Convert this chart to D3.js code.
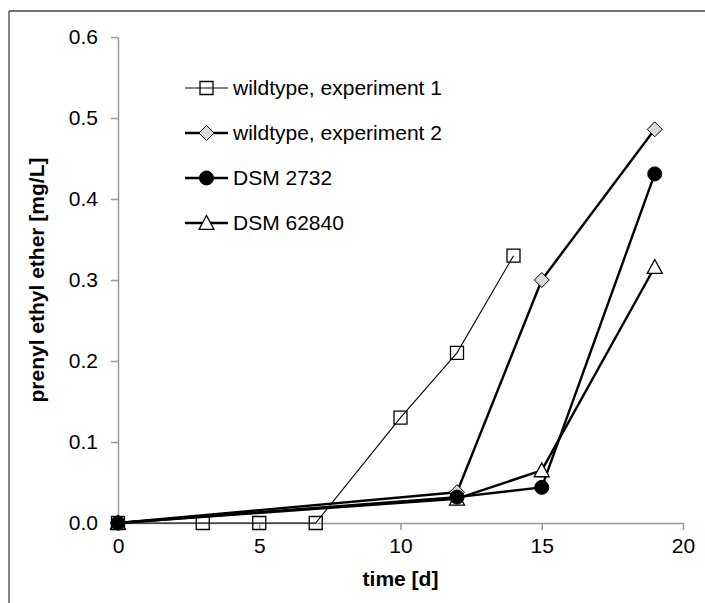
<!DOCTYPE html>
<html>
<head>
<meta charset="utf-8">
<script src="https://cdn.jsdelivr.net/npm/d3@7"></script>
<style>
  body { margin: 0; background: #fff; }
  text { font-family: "Liberation Sans", Arial, sans-serif; }
</style>
</head>
<body>
<svg id="chart" width="705" height="603"></svg>
<script>
// Data
let exp1Days = [0, 3, 5, 7, 10, 12, 14];
let exp1Values = [0, 0, 0, 0, 0.13, 0.21, 0.33];
let exp2Days = [0, 12, 15, 19];
let exp2Values = [0, 0.038, 0.30, 0.486];
let dsm2732Days = [0, 12, 15, 19];
let dsm2732Values = [0, 0.032, 0.044, 0.431];
let dsm62840Days = [0, 12, 15, 19];
let dsm62840Values = [0, 0.030, 0.065, 0.316];

let seriesNames = ["wildtype, experiment 1", "wildtype, experiment 2", "DSM 2732", "DSM 62840"];
let xTicks = [0, 5, 10, 15, 20];
let yTicks = [0, 0.1, 0.2, 0.3, 0.4, 0.5, 0.6];

let svg = d3.select("#chart");

let graphAttr = { left: 118, right: 683, top: 37, bottom: 523 };
let fontSize = "21px";

// Outer frame (top and left edges only are visible)
svg.append("line")
    .attr("x1", 9).attr("x2", 705).attr("y1", 11).attr("y2", 11)
    .attr("stroke", "#444").attr("stroke-width", 1.3);
svg.append("line")
    .attr("x1", 9).attr("x2", 9).attr("y1", 11).attr("y2", 603)
    .attr("stroke", "#444").attr("stroke-width", 1.3);

let x = d3.scaleLinear().domain([0, 20]).range([graphAttr.left, graphAttr.right]);
let y = d3.scaleLinear().domain([0, 0.6]).range([graphAttr.bottom, graphAttr.top]);

// Axes
let xAxis = svg.append("g")
    .attr("transform", "translate(0," + graphAttr.bottom + ")")
    .call(d3.axisBottom(x).tickValues(xTicks).tickSize(7).tickPadding(8).tickSizeOuter(0));
let yAxis = svg.append("g")
    .attr("transform", "translate(" + graphAttr.left + ",0)")
    .call(d3.axisLeft(y).tickValues(yTicks).tickFormat(d3.format(".1f")).tickSize(7).tickPadding(13).tickSizeOuter(0));

[xAxis, yAxis].forEach(a => {
    a.select(".domain").attr("stroke", "#999").attr("stroke-width", 1.5);
    a.selectAll(".tick line").attr("stroke", "#999").attr("stroke-width", 1.5);
    a.selectAll(".tick text")
        .attr("fill", "#000")
        .style("font-size", fontSize)
        .style("font-family", "'Liberation Sans', Arial, sans-serif");
});

// Axis titles
svg.append("text")
    .attr("x", (graphAttr.left + graphAttr.right) / 2)
    .attr("y", 586)
    .attr("text-anchor", "middle")
    .style("font-size", fontSize)
    .style("font-weight", "bold")
    .text("time [d]");
svg.append("text")
    .attr("transform", "translate(44," + (graphAttr.top + graphAttr.bottom) / 2 + ") rotate(-90)")
    .attr("text-anchor", "middle")
    .style("font-size", fontSize)
    .style("font-weight", "bold")
    .text("prenyl ethyl ether [mg/L]");

// Marker shapes
function markerPath(shape, s) {
    if (shape === "square") {
        return "M" + (-s) + "," + (-s) + "H" + s + "V" + s + "H" + (-s) + "Z";
    } else if (shape === "diamond") {
        return "M0," + (-s) + "L" + s + ",0L0," + s + "L" + (-s) + ",0Z";
    } else if (shape === "circle") {
        return d3.symbol(d3.symbolCircle, Math.PI * s * s)();
    } else {
        return "M0," + (-s) + "L" + s + "," + (s * 0.85) + "L" + (-s) + "," + (s * 0.85) + "Z";
    }
}

let series = [
    { name: seriesNames[0], days: exp1Days, values: exp1Values, shape: "square", size: 6.5, fill: "none", width: 1.1, mStroke: 1.3 },
    { name: seriesNames[1], days: exp2Days, values: exp2Values, shape: "diamond", size: 7.5, fill: "#d9d9d9", width: 2.4, mStroke: 1 },
    { name: seriesNames[2], days: dsm2732Days, values: dsm2732Values, shape: "circle", size: 7, fill: "#000", width: 2.4, mStroke: 1 },
    { name: seriesNames[3], days: dsm62840Days, values: dsm62840Values, shape: "triangle", size: 7.5, fill: "#fff", width: 2.4, mStroke: 1.3 }
];

let lineGen = d3.line().x(d => x(d[0])).y(d => y(d[1]));

// Draw lines first, markers on top (circles last, as in the original)
series.forEach(s => {
    let pts = s.days.map((d, i) => [d, s.values[i]]);
    svg.append("path")
        .attr("d", lineGen(pts))
        .attr("fill", "none")
        .attr("stroke", "#000")
        .attr("stroke-width", s.width)
        .attr("stroke-linejoin", "round");
});
[series[3], series[1], series[0], series[2]].forEach(s => {
    let pts = s.days.map((d, i) => [d, s.values[i]]);
    svg.append("g").selectAll("path")
        .data(pts)
        .join("path")
        .attr("transform", d => "translate(" + x(d[0]) + "," + y(d[1]) + ")")
        .attr("d", markerPath(s.shape, s.size))
        .attr("fill", s.fill)
        .attr("stroke", "#000")
        .attr("stroke-width", s.mStroke);
});

// Legend
let legendAttr = { x: 185, y: 88, rowHeight: 45, lineLength: 43 };
let legend = svg.append("g")
    .attr("transform", "translate(" + legendAttr.x + "," + legendAttr.y + ")");
series.forEach((s, i) => {
    let row = legend.append("g").attr("transform", "translate(0," + i * legendAttr.rowHeight + ")");
    row.append("line")
        .attr("x1", 0).attr("x2", legendAttr.lineLength)
        .attr("y1", 0).attr("y2", 0)
        .attr("stroke", "#000")
        .attr("stroke-width", s.width);
    row.append("path")
        .attr("transform", "translate(" + legendAttr.lineLength / 2 + ",0)")
        .attr("d", markerPath(s.shape, s.size))
        .attr("fill", s.fill)
        .attr("stroke", "#000")
        .attr("stroke-width", s.mStroke);
    row.append("text")
        .attr("x", legendAttr.lineLength + 5)
        .attr("y", 0)
        .attr("dy", "0.35em")
        .style("font-size", fontSize)
        .text(s.name);
});
</script>
</body>
</html>
